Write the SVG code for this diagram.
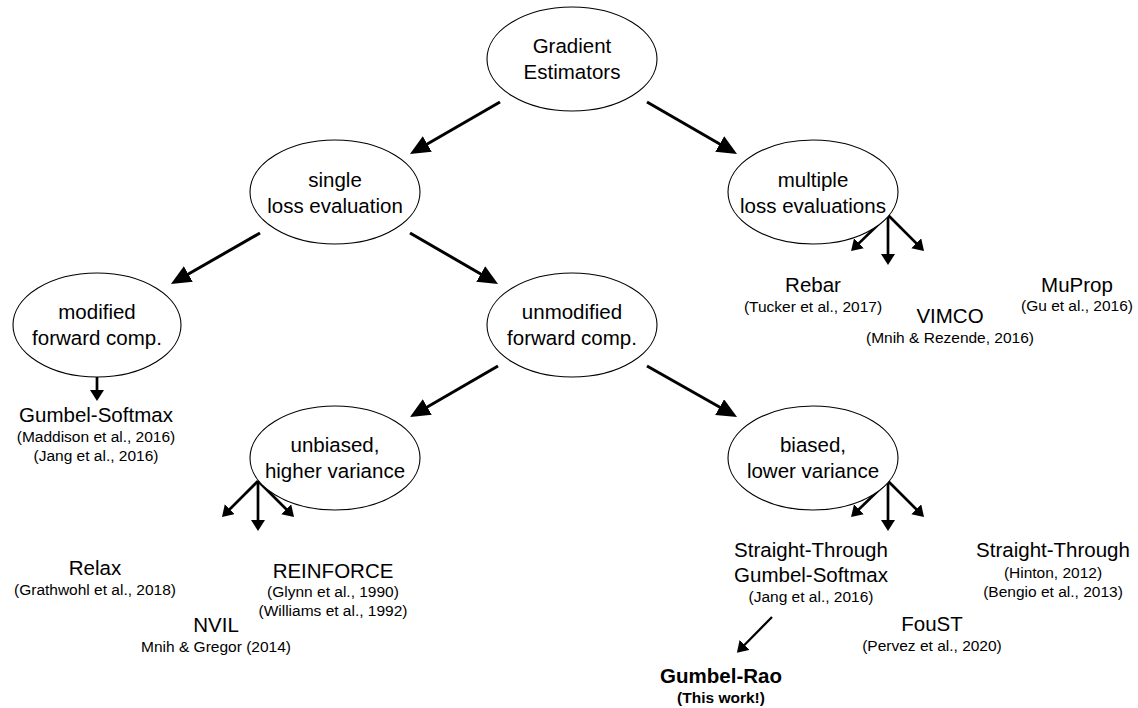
<svg xmlns="http://www.w3.org/2000/svg" width="1138" height="708" viewBox="0 0 1138 708">
<style>
  text { font-family: "Liberation Sans", Arial, sans-serif; fill: #000; text-anchor: middle; }
  .lbl { font-size: 20.5px; }
  .ref { font-size: 15.5px; }
  .bold { font-weight: bold; }
  ellipse { fill: #fff; stroke: #000; stroke-width: 1.1; }
  .main { stroke: #000; stroke-width: 3; fill: none; marker-end: url(#big); }
  .br { stroke: #000; stroke-width: 2.7; fill: none; marker-end: url(#small); }
  .thin { stroke: #000; stroke-width: 2.2; fill: none; marker-end: url(#small); }
</style>
<defs>
  <marker id="big" markerUnits="userSpaceOnUse" markerWidth="22" markerHeight="20" refX="15" refY="9" orient="auto">
    <path d="M0,0 L20,9 L0,18 z" fill="#000"/>
  </marker>
  <marker id="small" markerUnits="userSpaceOnUse" markerWidth="14" markerHeight="16" refX="8" refY="7" orient="auto">
    <path d="M0,0 L11,7 L0,14 z" fill="#000"/>
  </marker>
</defs>
<rect width="1138" height="708" fill="#fff"/>

<g id="connectors">
  <line class="main" x1="500" y1="102" x2="414.3" y2="151.5"/>
  <line class="main" x1="647" y1="102" x2="732.7" y2="151.5"/>
  <line class="main" x1="260" y1="233" x2="175.3" y2="281.5"/>
  <line class="main" x1="410" y1="233" x2="493.7" y2="281.5"/>
  <line class="main" x1="498" y1="366" x2="414.3" y2="414.5"/>
  <line class="main" x1="647" y1="366" x2="732.7" y2="414.5"/>
  <line class="br" x1="888" y1="215" x2="853.2" y2="248.9"/>
  <line class="br" x1="888" y1="215" x2="888" y2="262"/>
  <line class="br" x1="888" y1="215" x2="921.9" y2="248.9"/>
  <line class="br" x1="888" y1="481" x2="853.2" y2="514.9"/>
  <line class="br" x1="888" y1="481" x2="888" y2="528"/>
  <line class="br" x1="888" y1="481" x2="921.9" y2="514.9"/>
  <line class="br" x1="258" y1="481" x2="224.1" y2="514.9"/>
  <line class="br" x1="258" y1="481" x2="258" y2="528"/>
  <line class="br" x1="258" y1="481" x2="291.9" y2="514.9"/>
  <line class="br" x1="97" y1="377" x2="97" y2="398"/>
  <line class="thin" x1="772" y1="617" x2="739" y2="650.6"/>
</g>

<g id="gradient-estimators">
  <ellipse cx="572" cy="59" rx="85" ry="52"/>
  <text class="lbl" x="572" y="53">Gradient</text>
  <text class="lbl" x="572" y="79">Estimators</text>
</g>
<g id="single-loss">
  <ellipse cx="335" cy="192" rx="85" ry="52"/>
  <text class="lbl" x="335" y="187">single</text>
  <text class="lbl" x="335" y="213">loss evaluation</text>
</g>
<g id="multiple-loss">
  <ellipse cx="813" cy="192" rx="85" ry="52"/>
  <text class="lbl" x="813" y="187">multiple</text>
  <text class="lbl" x="813" y="213">loss evaluations</text>
</g>
<g id="modified">
  <ellipse cx="97" cy="325" rx="84" ry="52"/>
  <text class="lbl" x="97" y="319">modified</text>
  <text class="lbl" x="97" y="345">forward comp.</text>
</g>
<g id="unmodified">
  <ellipse cx="572" cy="325" rx="85" ry="52"/>
  <text class="lbl" x="572" y="319">unmodified</text>
  <text class="lbl" x="572" y="345">forward comp.</text>
</g>
<g id="unbiased">
  <ellipse cx="335" cy="458" rx="85" ry="52"/>
  <text class="lbl" x="335" y="452">unbiased,</text>
  <text class="lbl" x="335" y="478">higher variance</text>
</g>
<g id="biased">
  <ellipse cx="813" cy="458" rx="85" ry="52"/>
  <text class="lbl" x="813" y="452">biased,</text>
  <text class="lbl" x="813" y="478">lower variance</text>
</g>

<g id="gumbel-softmax">
  <text class="lbl" x="96" y="422">Gumbel-Softmax</text>
  <text class="ref" x="96" y="442">(Maddison et al., 2016)</text>
  <text class="ref" x="96" y="461">(Jang et al., 2016)</text>
</g>
<g id="rebar">
  <text class="lbl" x="813" y="292">Rebar</text>
  <text class="ref" x="813" y="312">(Tucker et al., 2017)</text>
</g>
<g id="vimco">
  <text class="lbl" x="950" y="323">VIMCO</text>
  <text class="ref" x="950" y="343">(Mnih &amp; Rezende, 2016)</text>
</g>
<g id="muprop">
  <text class="lbl" x="1077" y="292">MuProp</text>
  <text class="ref" x="1077" y="311">(Gu et al., 2016)</text>
</g>
<g id="relax">
  <text class="lbl" x="95" y="575">Relax</text>
  <text class="ref" x="95" y="595">(Grathwohl et al., 2018)</text>
</g>
<g id="reinforce">
  <text class="lbl" x="333" y="578">REINFORCE</text>
  <text class="ref" x="333" y="597">(Glynn et al., 1990)</text>
  <text class="ref" x="333" y="616">(Williams et al., 1992)</text>
</g>
<g id="nvil">
  <text class="lbl" x="216" y="632">NVIL</text>
  <text class="ref" x="216" y="652">Mnih &amp; Gregor (2014)</text>
</g>
<g id="st-gumbel-softmax">
  <text class="lbl" x="811" y="557">Straight-Through</text>
  <text class="lbl" x="811" y="582">Gumbel-Softmax</text>
  <text class="ref" x="811" y="602">(Jang et al., 2016)</text>
</g>
<g id="straight-through">
  <text class="lbl" x="1053" y="557">Straight-Through</text>
  <text class="ref" x="1053" y="578">(Hinton, 2012)</text>
  <text class="ref" x="1053" y="597">(Bengio et al., 2013)</text>
</g>
<g id="foust">
  <text class="lbl" x="932" y="631">FouST</text>
  <text class="ref" x="932" y="651">(Pervez et al., 2020)</text>
</g>
<g id="gumbel-rao">
  <text class="lbl bold" x="721" y="683">Gumbel-Rao</text>
  <text class="ref bold" x="721" y="703">(This work!)</text>
</g>
</svg>
